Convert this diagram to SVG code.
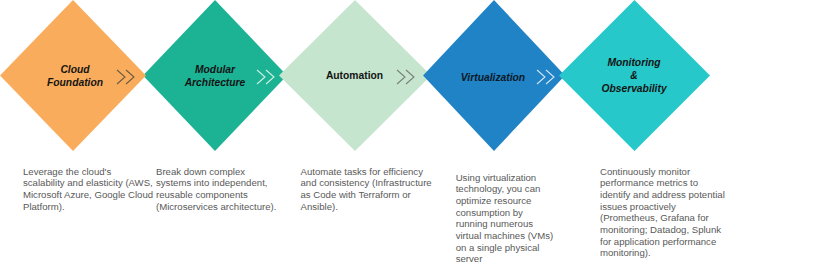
<svg xmlns="http://www.w3.org/2000/svg" width="833" height="273" viewBox="0 0 833 273">
<style>
.t{font-family:"Liberation Sans",Arial,sans-serif;font-size:10.3px;font-weight:bold;font-style:italic;fill:#141414;text-anchor:middle}
.d{font-family:"Liberation Sans",Arial,sans-serif;font-size:9.6px;fill:#595959}
.ch{fill:none;stroke-width:1.1}
</style>
<rect width="833" height="273" fill="#ffffff"/>
<g id="node-modular">
<polygon points="215,0 287,75.5 215,151 143,75.5" fill="#1BB394"/>
<text class="t" x="215" y="73">Modular</text>
<text class="t" x="215" y="85.5">Architecture</text>
<text class="d" x="156" y="174.5">Break down complex</text>
<text class="d" x="156" y="186.2">systems into independent,</text>
<text class="d" x="156" y="197.9">reusable components</text>
<text class="d" x="156" y="209.6">(Microservices architecture).</text>
</g>
<g id="node-cloud">
<polygon points="73,0 146,75.5 73,151 0,75.5" fill="#F9AD5C"/>
<text class="t" x="75" y="73">Cloud</text>
<text class="t" x="75" y="85.5">Foundation</text>
<text class="d" x="23" y="174.5">Leverage the cloud's</text>
<text class="d" x="23" y="186.2">scalability and elasticity (AWS,</text>
<text class="d" x="23" y="197.9">Microsoft Azure, Google Cloud</text>
<text class="d" x="23" y="209.6">Platform).</text>
</g>
<g id="node-automation">
<polygon points="355,0 431,75.5 355,151 279,75.5" fill="#C5E5CE"/>
<text class="t" x="354.5" y="79" style="font-style:normal">Automation</text>
<text class="d" x="300.5" y="174.5">Automate tasks for efficiency</text>
<text class="d" x="300.5" y="186.2">and consistency (Infrastructure</text>
<text class="d" x="300.5" y="197.9">as Code with Terraform or</text>
<text class="d" x="300.5" y="209.6">Ansible).</text>
</g>
<g id="node-virtualization">
<polygon points="494,0 565,75.5 494,151 423,75.5" fill="#1F83C6"/>
<text class="t" x="493" y="80.5" style="fill:#0d1726">Virtualization</text>
<text class="d" x="455.7" y="180.5">Using virtualization</text>
<text class="d" x="455.7" y="192.2">technology, you can</text>
<text class="d" x="455.7" y="203.9">optimize resource</text>
<text class="d" x="455.7" y="215.6">consumption by</text>
<text class="d" x="455.7" y="227.3">running numerous</text>
<text class="d" x="455.7" y="239">virtual machines (VMs)</text>
<text class="d" x="455.7" y="250.7">on a single physical</text>
<text class="d" x="455.7" y="262.4">server</text>
</g>
<g id="node-monitoring">
<polygon points="634.5,0 710,75.5 634.5,151 559,75.5" fill="#26C8CA"/>
<text class="t" x="634" y="66">Monitoring</text>
<text class="t" x="634" y="79">&amp;</text>
<text class="t" x="634" y="92">Observability</text>
<text class="d" x="600" y="174.5">Continuously monitor</text>
<text class="d" x="600" y="186.2">performance metrics to</text>
<text class="d" x="600" y="197.9">identify and address potential</text>
<text class="d" x="600" y="209.6">issues proactively</text>
<text class="d" x="600" y="221.3">(Prometheus, Grafana for</text>
<text class="d" x="600" y="233">monitoring; Datadog, Splunk</text>
<text class="d" x="600" y="244.7">for application performance</text>
<text class="d" x="600" y="256.4">monitoring).</text>
</g>
<g id="connectors">
<path class="ch" d="M117,70 L125,77 L117,84 M126,70 L134,77 L126,84" stroke="#6d5a43"/>
<path class="ch" d="M257,70 L265,77 L257,84 M266,70 L274,77 L266,84" stroke="#d2efe6"/>
<path class="ch" d="M397,70 L405,77 L397,84 M406,70 L414,77 L406,84" stroke="#7a7f7b"/>
<path class="ch" d="M537,70 L545,77 L537,84 M546,70 L554,77 L546,84" stroke="#d3e5f5"/>
</g>
</svg>
